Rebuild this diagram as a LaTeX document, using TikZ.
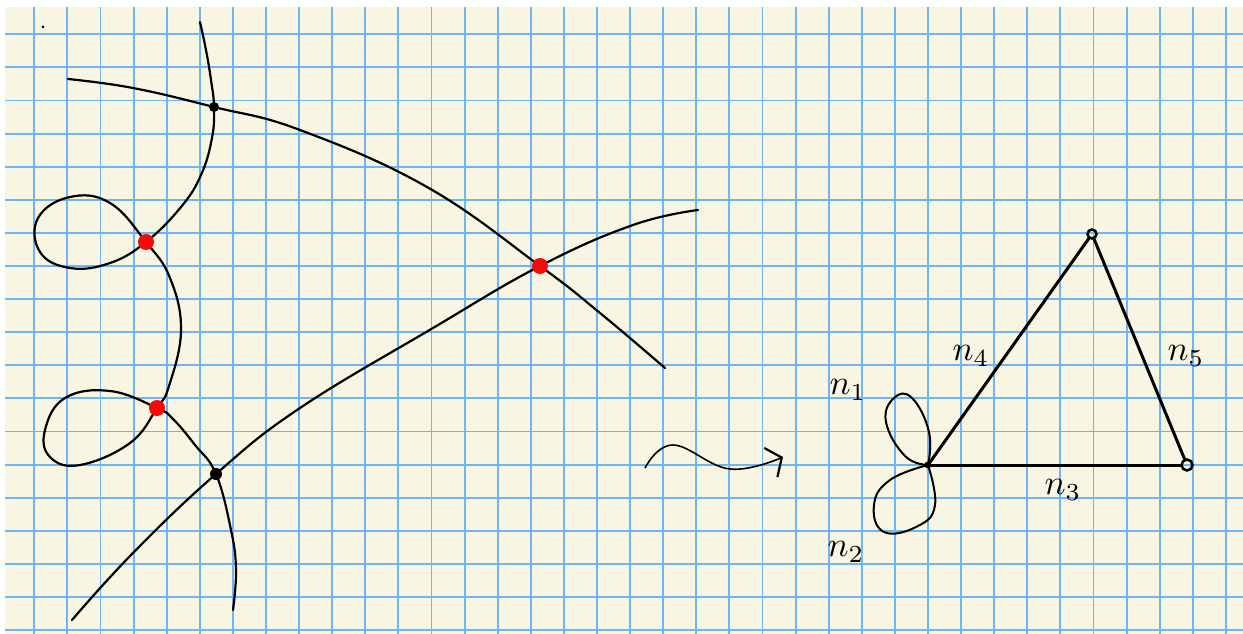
\documentclass[tikz,border=0pt]{standalone}
\usepackage{tikz}
\usetikzlibrary{arrows.meta}
\definecolor{paper}{HTML}{F8F6E2}
\definecolor{gridblue}{HTML}{6EB4F8}
\definecolor{crossred}{HTML}{F50A0A}

\begin{document}
\begin{tikzpicture}[x=1pt, y=-1pt,
    curve/.style={line width=2.2pt, line cap=round, line join=round},
    edge/.style={line width=3pt, line cap=round},
    petal/.style={line width=2pt, line cap=round, line join=round},
    reddot/.style={circle, fill=crossred, inner sep=0pt, minimum size=16pt},
    blackdot/.style={circle, fill=black, inner sep=0pt, minimum size=10pt},
    vertex/.style={circle, draw, line width=2.5pt, inner sep=0pt, minimum size=9pt},
    lab/.style={scale=3.5},
    >={Straight Barb[length=12pt, width=32pt, line width=2.2pt]},
]
    % Paper and grid
    \useasboundingbox (0,0) rectangle (1243,634);
    \fill[white] (0,0) rectangle (1243,634);
    \fill[paper] (5,7) rectangle (1243,634);
    \foreach \k in {0,...,36}
        \draw[gridblue, line width=1.9pt] ({34.3+33.1*\k},7) -- ({34.3+33.1*\k},634);
    \foreach \k in {0,...,18}
        \draw[gridblue, line width=1.9pt] (5,{34.3+33.1*\k}) -- (1243,{34.3+33.1*\k});
    \fill (43,27) circle (1.5);

    % Crossings
    \coordinate (p1) at (214,107);
    \coordinate (p2) at (216,474);
    \coordinate (r1) at (146,242);
    \coordinate (r2) at (157,408);
    \coordinate (r3) at (540,266);

    % Curve with two loops
    \draw[curve] plot[smooth, tension=0.7] coordinates {(200,22) (206,50) (211,80)
        (p1) (212,138) (201,175) (181,207) (r1) (110,263) (70,268) (40,252)
        (38,218) (70,197) (110,203) (r1) (170,278) (181,330) (169,386) (r2)
        (130,443) (80,465) (50,457) (45,430) (65,398) (110,391) (r2) (173,419)
        (195,445) (p2) (231,530) (236,570) (233,610)};

    % Upper long curve
    \draw[curve] plot[smooth, tension=0.7] coordinates {(68,79) (133,88) (p1)
        (300,130) (427,187) (r3) (600,313) (665,368)};

    % Lower long curve
    \draw[curve] plot[smooth, tension=0.7] coordinates {(72,620) (133,553) (p2)
        (300,408) (433,328) (r3) (633,225) (698,210)};

    % Marked points
    \node[blackdot] (d1) at (p1) {};
    \node[blackdot, minimum size=12pt] (d2) at (p2) {};
    \node[reddot] (c1) at (r1) {};
    \node[reddot] (c2) at (r2) {};
    \node[reddot] (c3) at (r3) {};

    % Squiggle arrow
    \coordinate (s0) at (645,468);
    \coordinate (s1) at (783,457);
    \draw[line width=1.6pt, ->] plot[smooth, tension=0.7] coordinates {(s0) (673,445)
        (730,469) (s1)};

    % Graph
    \node[blackdot, minimum size=7pt] (v1) at (928,465) {};
    \node[vertex] (v2) at (1092,234) {};
    \node[vertex, minimum size=11pt] (v3) at (1187,465) {};
    \draw[edge] (v1) -- (v2);
    \draw[edge] (v2) -- (v3);
    \draw[edge] (v1) -- (v3);
    \draw[petal] plot[smooth, tension=0.75] coordinates {(v1.center) (929,432)
        (912,398) (894,398) (886,422) (905,456) (v1.center)};
    \draw[petal] plot[smooth, tension=0.75] coordinates {(v1.center) (935,505)
        (918,526) (884,532) (874,505) (890,480) (v1.center)};

    % Labels
    \node[lab] (n1) at (848,390) {$n_1$};
    \node[lab] (n2) at (846,552) {$n_2$};
    \node[lab] (n3) at (1063,490) {$n_3$};
    \node[lab] (n4) at (971,356) {$n_4$};
    \node[lab] (n5) at (1186,356) {$n_5$};
\end{tikzpicture}
\end{document}
